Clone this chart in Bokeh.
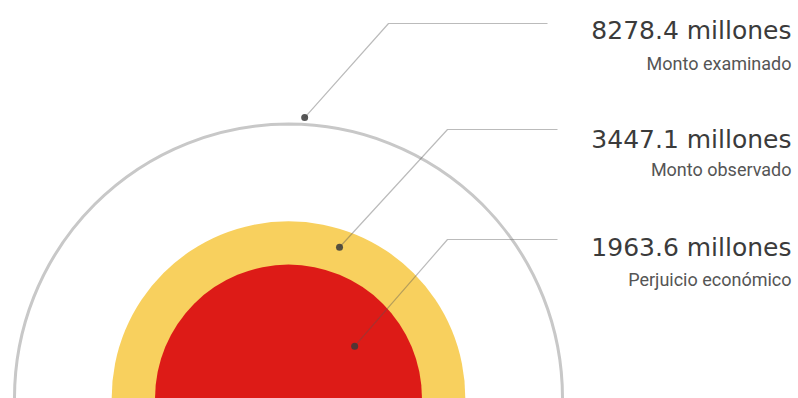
import math
from bokeh.plotting import figure
from bokeh.models import Range1d, ColumnDataSource
from bokeh.core.properties import value
from bokeh.embed import file_html
from bokeh.resources import INLINE

# Amounts (millions) and their captions
amounts = [8278.4, 3447.1, 1963.6]
captions = ["Monto examinado", "Monto observado", "Perjuicio económico"]
fill_colors = [None, "#F8D05E", "#DD1B17"]

# Layout (pixel space, y grows downward)
W, H = 798, 398
cx, cy = 288, 397.5
outer_radius = 274           # radius of the largest circle
# leader anchors: angle from vertical (deg) and radial fraction of each circle
anchor_angle = [3.3, 18.7, 51.9]
anchor_frac = [1.025, 0.90, 0.63]
elbow = [(388, 23), (447, 129), (447, 239)]
line_end_x = [547, 557, 557]
text_right = 791
number_baseline = [30, 139, 247]
caption_baseline = [63, 169, 279]

# circle areas proportional to the amounts
k = outer_radius / math.sqrt(max(amounts))
radii = [k * math.sqrt(a) for a in amounts]

p = figure(width=W, height=H, x_range=Range1d(0, W), y_range=Range1d(H, 0),
           output_backend="svg", toolbar_location=None, min_border=0)
p.axis.visible = False
p.grid.visible = False
p.outline_line_color = None
p.background_fill_color = "white"
p.border_fill_color = "white"

# outer ring
p.circle(x=[cx], y=[cy], radius=[radii[0]], fill_color=None,
         line_color="#C8C8C8", line_width=3)
# filled discs
p.circle(x=[cx], y=[cy], radius=[radii[1]], fill_color=fill_colors[1], line_color=None)
p.circle(x=[cx], y=[cy], radius=[radii[2]], fill_color=fill_colors[2], line_color=None)

# leader lines and anchor dots
dots_x, dots_y = [], []
for i in range(3):
    a = math.radians(anchor_angle[i])
    r = radii[i] * anchor_frac[i]
    dx, dy = cx + r * math.sin(a), cy - r * math.cos(a)
    dots_x.append(dx)
    dots_y.append(dy)
    ex, ey = elbow[i]
    p.line(x=[dx, ex, line_end_x[i]], y=[dy, ey, ey],
           line_color="#555555", line_alpha=0.4, line_width=1.2)
p.scatter(x=dots_x, y=dots_y, size=7, marker="circle",
          fill_color="#3a3a3a", fill_alpha=0.85, line_color=None)

# labels
src = ColumnDataSource(dict(
    x=[text_right] * 3,
    yn=number_baseline,
    yc=caption_baseline,
    num=[f"{a} millones" for a in amounts],
    cap=captions,
))
p.text(x="x", y="yn", text="num", source=src, text_align="right",
       text_baseline="alphabetic", text_font=value("DejaVu Sans"),
       text_font_size="25px", text_color="#3b3b3b")
p.text(x="x", y="yc", text="cap", source=src, text_align="right",
       text_baseline="alphabetic", text_font=value("Roboto"),
       text_font_size="18px", text_color="#555555")

open("out.html", "w").write(file_html(p, INLINE))
